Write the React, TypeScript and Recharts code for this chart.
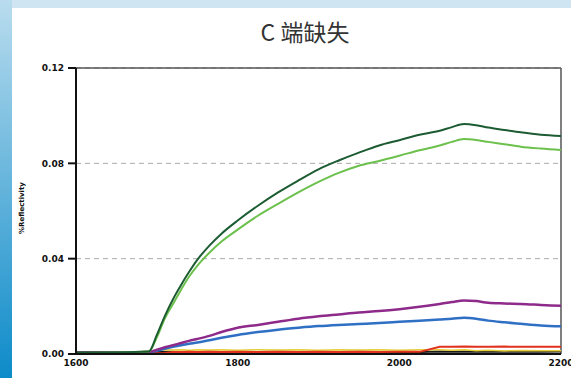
import { LineChart, Line, XAxis, YAxis, CartesianGrid, ReferenceLine } from "recharts";

// wavelength (nm)
const wavelengths = [1600, 1650, 1690, 1700, 1710, 1720, 1730, 1740, 1750, 1765, 1780, 1800, 1825, 1850, 1875, 1900, 1925, 1950, 1975, 2000, 2025, 2050, 2065, 2080, 2095, 2110, 2130, 2150, 2175, 2200];

const darkGreen = [0.0005, 0.0006, 0.001, 0.008, 0.016, 0.023, 0.029, 0.0345, 0.0395, 0.0455, 0.0505, 0.056, 0.0622, 0.0678, 0.0728, 0.0775, 0.0812, 0.0845, 0.0875, 0.0897, 0.092, 0.0937, 0.0952, 0.0965, 0.096, 0.095, 0.094, 0.093, 0.092, 0.0915];
const lightGreen = [0.0005, 0.0006, 0.001, 0.007, 0.015, 0.021, 0.027, 0.0325, 0.037, 0.0425, 0.0472, 0.0522, 0.058, 0.063, 0.0678, 0.0722, 0.076, 0.079, 0.081, 0.0832, 0.0855, 0.0875, 0.089, 0.0902, 0.0898, 0.089, 0.088, 0.087, 0.0862, 0.0856];
const purple = [0.0005, 0.0005, 0.0008, 0.0018, 0.0028, 0.0037, 0.0046, 0.0055, 0.0063, 0.0076, 0.0092, 0.011, 0.0122, 0.0135, 0.0148, 0.0158, 0.0166, 0.0174, 0.018, 0.0188, 0.0198, 0.021, 0.0218, 0.0225, 0.0222, 0.0215, 0.0212, 0.021, 0.0206, 0.0202];
const blue = [0.0004, 0.0004, 0.0006, 0.0014, 0.0022, 0.003, 0.0037, 0.0043, 0.0048, 0.0058, 0.0068, 0.008, 0.0092, 0.0102, 0.011, 0.0117, 0.0122, 0.0126, 0.013, 0.0135, 0.014, 0.0145, 0.0148, 0.0152, 0.0148, 0.014, 0.0133, 0.0127, 0.012, 0.0116];
const red = [0.0003, 0.0003, 0.0003, 0.0003, 0.0004, 0.0008, 0.0008, 0.0009, 0.0008, 0.0009, 0.0008, 0.0009, 0.0008, 0.0009, 0.0008, 0.0009, 0.0008, 0.0009, 0.0008, 0.0009, 0.0009, 0.003, 0.003, 0.0031, 0.003, 0.003, 0.0031, 0.003, 0.003, 0.003];
const yellow = [0.0004, 0.0004, 0.0012, 0.0016, 0.0018, 0.0017, 0.0018, 0.0016, 0.0018, 0.0017, 0.0018, 0.0016, 0.0018, 0.0017, 0.0018, 0.0016, 0.0018, 0.0017, 0.0018, 0.0016, 0.0018, 0.0018, 0.0016, 0.0018, 0.0014, 0.0016, 0.0013, 0.0015, 0.0014, 0.0014];
const black = [0.0008, 0.0008, 0.0008, 0.0009, 0.0008, 0.0009, 0.0008, 0.0009, 0.0008, 0.0009, 0.0008, 0.0009, 0.0008, 0.0009, 0.0008, 0.0009, 0.0008, 0.0009, 0.0008, 0.0009, 0.0008, 0.001, 0.0009, 0.001, 0.0009, 0.001, 0.0009, 0.001, 0.0009, 0.001];

const yTicks = [0, 0.04, 0.08, 0.12];
const xTicks = [1600, 1800, 2000, 2200];

const data = wavelengths.map((w, i) => ({
  w,
  darkGreen: darkGreen[i],
  lightGreen: lightGreen[i],
  purple: purple[i],
  blue: blue[i],
  red: red[i],
  yellow: yellow[i],
  black: black[i],
}));

const tickFont = { fontFamily: "DejaVu Sans", fontSize: 9, fontWeight: 700, fill: "#111" };

export default function App() {
  return (
    <div style={{ position: "fixed", left: 0, top: 0, width: 571, height: 378, background: "#fff", overflow: "hidden" }}>
      <div style={{ position: "absolute", left: 0, top: 0, width: 571, height: 8, background: "#cfe5f1" }} />
      <div style={{ position: "absolute", left: 0, top: 0, width: 12, height: 378, background: "linear-gradient(#b9dcee, #0d8bc9)" }} />
      <div style={{ position: "absolute", left: 0, top: 16, width: 610, textAlign: "center", fontFamily: "'Noto Sans CJK SC', 'Noto Sans'", fontSize: 23, lineHeight: "30px", color: "#333" }}>
        C 端缺失
      </div>
      <div style={{ position: "absolute", left: 0, top: 0 }}>
        <LineChart width={571} height={378} data={data} margin={{ top: 68, right: 10, bottom: 4, left: 16 }}>
          <CartesianGrid vertical={false} stroke="#aaa" strokeDasharray="5 4" />
          <XAxis
            dataKey="w"
            type="number"
            domain={[1600, 2200]}
            ticks={xTicks}
            tickLine={false}
            tickSize={4}
            tickMargin={2}
            height={20}
            stroke="#111"
            strokeWidth={2}
            tick={tickFont}
            allowDataOverflow
          />
          <YAxis
            domain={[0, 0.12]}
            ticks={yTicks}
            tickFormatter={(v: number) => v.toFixed(2)}
            width={60}
            tickSize={8}
            tickMargin={4}
            stroke="#111"
            strokeWidth={2}
            tick={tickFont}
            label={{
              value: "%Reflectivity",
              content: () => (
                <text x={24} y={208} transform="rotate(-90 24 208)" textAnchor="middle" fontFamily="DejaVu Sans" fontSize={7} fontWeight={700} fill="#111">
                  %Reflectivity
                </text>
              ),
            }}
          />
          <ReferenceLine y={0.12} stroke="#555" strokeWidth={1.5} />
          <ReferenceLine x={2200} stroke="#555" strokeWidth={1.5} />
          <Line dataKey="black" stroke="#1a1a1a" strokeWidth={2} dot={false} isAnimationActive={false} />
          <Line dataKey="yellow" stroke="#e6cf3a" strokeWidth={1.5} dot={false} isAnimationActive={false} />
          <Line dataKey="red" stroke="#e0321e" strokeWidth={2} dot={false} isAnimationActive={false} />
          <Line type="monotone" dataKey="blue" stroke="#2f6fc4" strokeWidth={2.5} dot={false} isAnimationActive={false} />
          <Line type="monotone" dataKey="purple" stroke="#8e2a8a" strokeWidth={2.5} dot={false} isAnimationActive={false} />
          <Line type="monotone" dataKey="lightGreen" stroke="#6cc04c" strokeWidth={2} dot={false} isAnimationActive={false} />
          <Line type="monotone" dataKey="darkGreen" stroke="#1d5c33" strokeWidth={2} dot={false} isAnimationActive={false} />
        </LineChart>
      </div>
    </div>
  );
}
